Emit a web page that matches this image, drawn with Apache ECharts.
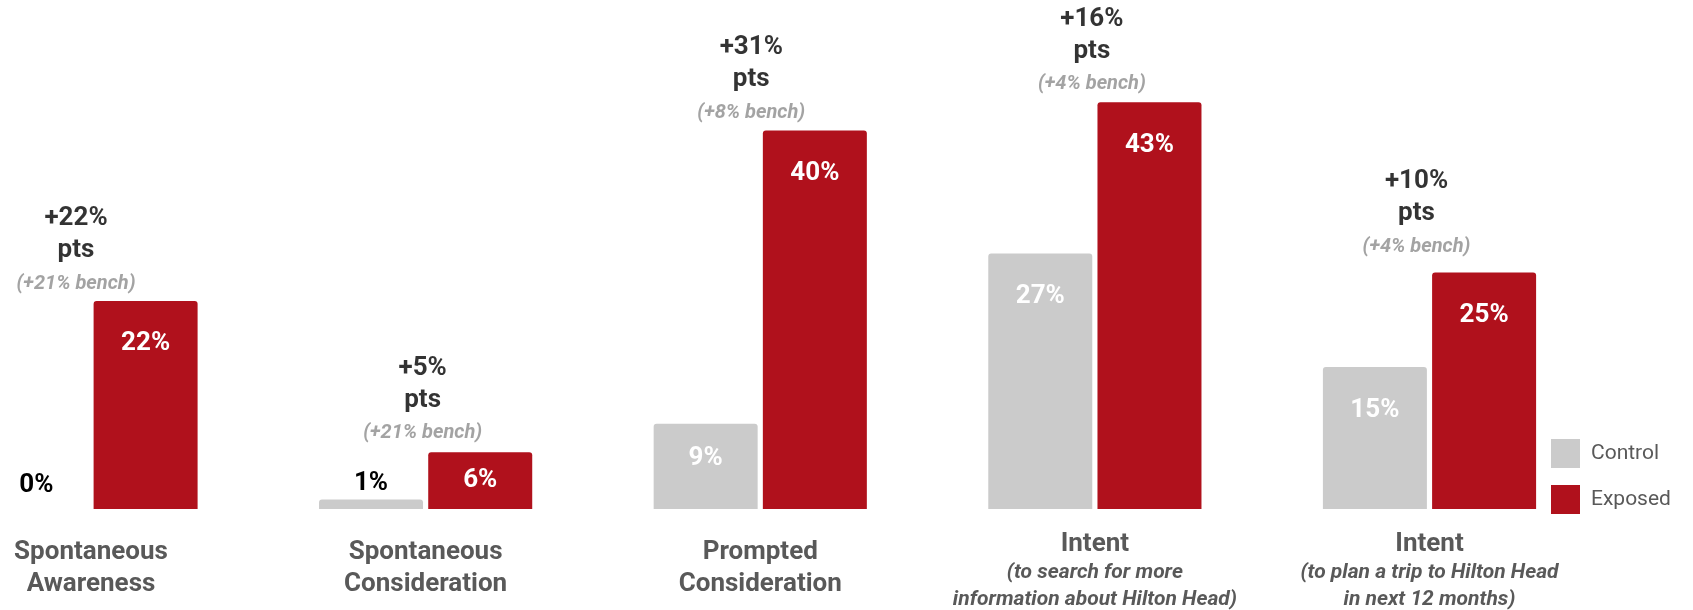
<!DOCTYPE html>
<html>
<head>
<meta charset="utf-8">
<script src="https://cdn.jsdelivr.net/npm/echarts@6/dist/echarts.min.js"></script>
<style>
html,body{margin:0;padding:0;background:#fff;}
#chart{width:1693px;height:610px;}
</style>
</head>
<body>
<div id="chart"></div>
<script>
// 分类名称
var catTitle = ['Spontaneous\nAwareness', 'Spontaneous\nConsideration', 'Prompted\nConsideration', 'Intent', 'Intent'];
var catSub = ['', '', '', '(to search for more\ninformation about Hilton Head)', '(to plan a trip to Hilton Head\nin next 12 months)'];
// 数值
var control = [0, 1, 9, 27, 15];
var exposed = [22, 6, 40, 43, 25];
var lift = ['+22%', '+5%', '+31%', '+16%', '+10%'];
var bench = ['+21%', '+21%', '+8%', '+4%', '+4%'];

// 顶部注释的微调(像素)
var annoShift = [[-15, 0], [-3, -2], [-9, -1], [-3, -1], [-13, -9]];

var RED = '#b0111c';
var GREY = '#cbcbcb';
var FONT = 'Roboto';

function barLabel(v) {
	if (v < 3) {
		return {show: true, position: 'top', distance: v == 0 ? 11 : 3, color: '#000'};
	}
	if (v < 8) {
		return {show: true, position: 'inside', color: '#fff'};
	}
	return {show: true, position: 'insideTop', distance: v < 12 ? 22 : 30, color: '#fff'};
}

function buildBars(arr) {
	var out = [];
	for (var i = 0; i < arr.length; i++) {
		out.push({value: arr[i], label: barLabel(arr[i])});
	}
	return out;
}

function buildCats() {
	var out = [];
	for (var i = 0; i < catTitle.length; i++) {
		if (catSub[i]) {
			var subs = catSub[i].split('\n');
			var s = '{t2|' + catTitle[i] + '}';
			for (var j = 0; j < subs.length; j++) {
				s += '\n{s|' + subs[j] + '}';
			}
			out.push({value: s, textStyle: {padding: [0, 0, 0, 0]}});
		} else {
			var lines = catTitle[i].split('\n');
			var s2 = [];
			for (var k = 0; k < lines.length; k++) {
				s2.push('{t|' + lines[k] + '}');
			}
			out.push({value: s2.join('\n'), textStyle: {padding: [6, 0, 0, 0]}});
		}
	}
	return out;
}

function buildAnno() {
	var out = [];
	for (var i = 0; i < exposed.length; i++) {
		out.push({
			value: [i, exposed[i]],
			label: {
				offset: annoShift[i],
				formatter: '{a|' + lift[i] + '}\n{a|pts}\n{b|(' + bench[i] + ' bench)}'
			}
		});
	}
	return out;
}

var chart = echarts.init(document.getElementById('chart'));
var option = {
	animation: false,
	textStyle: {fontFamily: FONT},
	// boundaryGap:false 时分类点落在网格两端，第一组中心 x=91
	grid: {left: 91, width: 1338.5, top: 36, bottom: 96},
	legend: {
		data: ['Control', 'Exposed'],
		orient: 'vertical',
		left: 1546,
		top: 434,
		icon: 'rect',
		itemWidth: 29,
		itemHeight: 29,
		itemGap: 17,
		textStyle: {fontSize: 21, color: '#595959', fontFamily: FONT, padding: [0, 0, 0, 6]}
	},
	xAxis: {
		type: 'category',
		boundaryGap: false,
		data: buildCats(),
		axisLine: {show: false},
		axisTick: {show: false},
		splitLine: {show: false},
		axisLabel: {
			margin: 21,
			interval: 0,
			rich: {
				t: {fontSize: 26, fontWeight: 'bold', color: '#595959', lineHeight: 32, fontFamily: FONT},
				t2: {fontSize: 26, fontWeight: 'bold', color: '#595959', lineHeight: 29, fontFamily: FONT},
				s: {fontSize: 21, fontWeight: 'bold', fontStyle: 'italic', color: '#595959', lineHeight: 27, fontFamily: FONT}
			}
		}
	},
	yAxis: {
		type: 'value',
		min: 0,
		max: 50,
		show: false,
		splitLine: {show: false}
	},
	series: [
		{
			name: 'Control',
			type: 'bar',
			barWidth: 104,
			barGap: '5%',
			itemStyle: {color: GREY, borderRadius: [3, 3, 0, 0]},
			label: {fontSize: 26, fontWeight: 'bold', fontFamily: FONT, formatter: '{c}%'},
			data: buildBars(control)
		},
		{
			name: 'Exposed',
			type: 'bar',
			barWidth: 104,
			itemStyle: {color: RED, borderRadius: [3, 3, 0, 0]},
			label: {fontSize: 26, fontWeight: 'bold', fontFamily: FONT, formatter: '{c}%'},
			data: buildBars(exposed)
		},
		{
			name: 'lift',
			type: 'scatter',
			symbolSize: 0,
			silent: true,
			label: {
				show: true,
				position: 'top',
				distance: 0,
				color: '#000',
				rich: {
					a: {fontSize: 26, fontWeight: 'bold', color: '#000', lineHeight: 32, fontFamily: FONT, align: 'center'},
					b: {fontSize: 20, fontWeight: 'bold', fontStyle: 'italic', color: '#8c8c8c', lineHeight: 34, fontFamily: FONT, align: 'center'}
				}
			},
			data: buildAnno()
		}
	]
};
chart.setOption(option);
</script>
</body>
</html>
